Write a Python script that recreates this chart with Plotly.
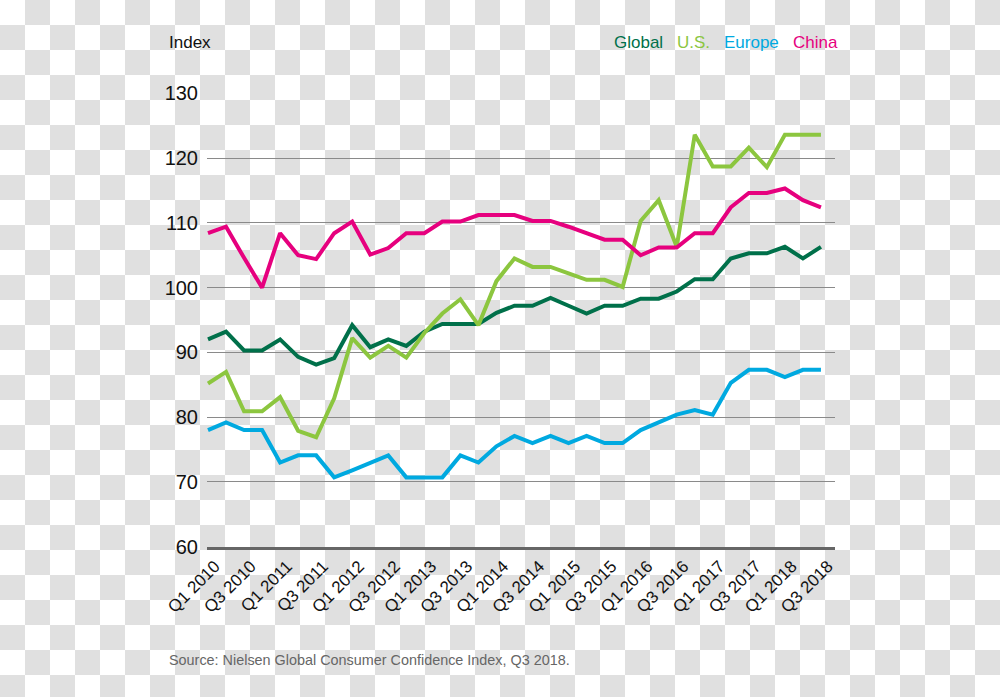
import plotly.graph_objects as go

quarters = [f"Q{q} {y}" for y in range(2010, 2019) for q in (1, 2, 3, 4)][:35]
tick_labels = ["Q1 2010", "Q3 2010", "Q1 2011", "Q3 2011", "Q1 2012", "Q3 2012",
               "Q1 2013", "Q3 2013", "Q1 2014", "Q3 2014", "Q1 2015", "Q3 2015",
               "Q1 2016", "Q3 2016", "Q1 2017", "Q3 2017", "Q1 2018", "Q3 2018"]

global_idx = [92.0, 93.2, 90.3, 90.3, 92.0, 89.3, 88.1, 89.1, 94.2, 90.8, 92.0, 91.0,
              93.2, 94.4, 94.4, 94.4, 96.1, 97.2, 97.2, 98.4, 97.2, 96.0, 97.2, 97.2,
              98.3, 98.3, 99.4, 101.3, 101.3, 104.5, 105.3, 105.3, 106.3, 104.5, 106.3]
us_idx = [85.2, 87.0, 80.9, 80.9, 83.1, 77.9, 76.9, 82.9, 92.2, 89.2, 91.0, 89.2,
          93.0, 96.0, 98.2, 94.2, 101.0, 104.5, 103.2, 103.2, 102.2, 101.2, 101.2, 100.1,
          110.3, 113.5, 106.3, 123.6, 118.7, 118.7, 121.6, 118.6, 123.6, 123.6, 123.6]
europe_idx = [78.0, 79.2, 78.0, 78.0, 73.0, 74.1, 74.1, 70.7, 71.8, 73.0, 74.1, 70.7,
              70.7, 70.7, 74.1, 73.0, 75.5, 77.1, 76.0, 77.1, 76.0, 77.1, 76.0, 76.0,
              78.0, 79.2, 80.4, 81.1, 80.4, 85.3, 87.3, 87.3, 86.2, 87.3, 87.3]
china_idx = [108.4, 109.4, 104.6, 100.0, 108.4, 105.0, 104.4, 108.4, 110.2, 105.1, 106.1, 108.4,
             108.4, 110.2, 110.2, 111.2, 111.2, 111.2, 110.3, 110.3, 109.4, 108.4, 107.4, 107.4,
             105.0, 106.2, 106.2, 108.4, 108.4, 112.4, 114.6, 114.6, 115.3, 113.5, 112.4]

series_names = ["Global", "U.S.", "Europe", "China"]
series_colors = ["#00704a", "#8cc63f", "#00a9e0", "#e6007e"]
series_values = [global_idx, us_idx, europe_idx, china_idx]

W, H = 1000, 697
FONT = "Liberation Sans, Arial, sans-serif"

fig = go.Figure()
for name, color, vals in zip(series_names, series_colors, series_values):
    fig.add_trace(go.Scatter(x=quarters, y=vals, mode="lines", name=name,
                             line=dict(color=color, width=4), showlegend=False,
                             hoverinfo="skip"))

# checkerboard background (transparency pattern)
cell = 25
parts = []
for r in range(0, (H // cell) + 1):
    for c in range(0, W // cell):
        if (r + c) % 2 == 1:
            x0 = c * cell / W
            x1 = min((c + 1) * cell, W) / W
            y0 = 1 - r * cell / H
            y1 = max(1 - (r + 1) * cell / H, 0)
            parts.append(f"M{x0:.5f},{y0:.5f}H{x1:.5f}V{y1:.5f}H{x0:.5f}Z")
fig.add_shape(type="path", path="".join(parts), xref="paper", yref="paper",
              fillcolor="#e0e0e0", line=dict(width=0), layer="below")

left_px, right_px, top_px, bottom_px = 207, 835, 93.3, 546.7
fig.update_layout(
    template="none",
    width=W, height=H, autosize=False,
    margin=dict(l=0, r=0, t=0, b=0, pad=0, autoexpand=False),
    paper_bgcolor="white", plot_bgcolor="rgba(0,0,0,0)",
    showlegend=False,
    xaxis=dict(domain=[left_px / W, right_px / W], type="category", automargin=False,
               range=[-0.055, 34.78], tickvals=tick_labels, ticktext=tick_labels,
               tickangle=-45, showgrid=False, showline=True, linecolor="#666666",
               linewidth=3, ticks="", zeroline=False, ticklabelshift=7,
               tickfont=dict(family=FONT, size=17, color="#111111")),
    yaxis=dict(domain=[1 - bottom_px / H, 1 - top_px / H], range=[60, 130], automargin=False,
               tickvals=[60, 70, 80, 90, 100, 110, 120, 130], showgrid=True,
               gridcolor="#8a8a8a", gridwidth=1, zeroline=False, showline=False,
               ticks="", ticklabelstandoff=8,
               tickfont=dict(family=FONT, size=20, color="#111111")),
)

fig.add_annotation(text="Index", x=167 / W, y=1 - 42 / H, xref="paper", yref="paper",
                   xanchor="left", yanchor="middle", showarrow=False,
                   font=dict(family=FONT, size=17, color="#111111"))
legend_x = [612, 675, 722, 791]
for name, color, lx in zip(series_names, series_colors, legend_x):
    fig.add_annotation(text=name, x=lx / W, y=1 - 42 / H, xref="paper", yref="paper",
                       xanchor="left", yanchor="middle", showarrow=False,
                       font=dict(family=FONT, size=17, color=color))
fig.add_annotation(text="Source: Nielsen Global Consumer Confidence Index, Q3 2018.",
                   x=167 / W, y=1 - 660 / H, xref="paper", yref="paper",
                   xanchor="left", yanchor="middle", showarrow=False,
                   font=dict(family=FONT, size=14.4, color="#666666"))

fig.write_html("out.html", config={"displayModeBar": False},
               post_script="document.body.style.margin='0';")
